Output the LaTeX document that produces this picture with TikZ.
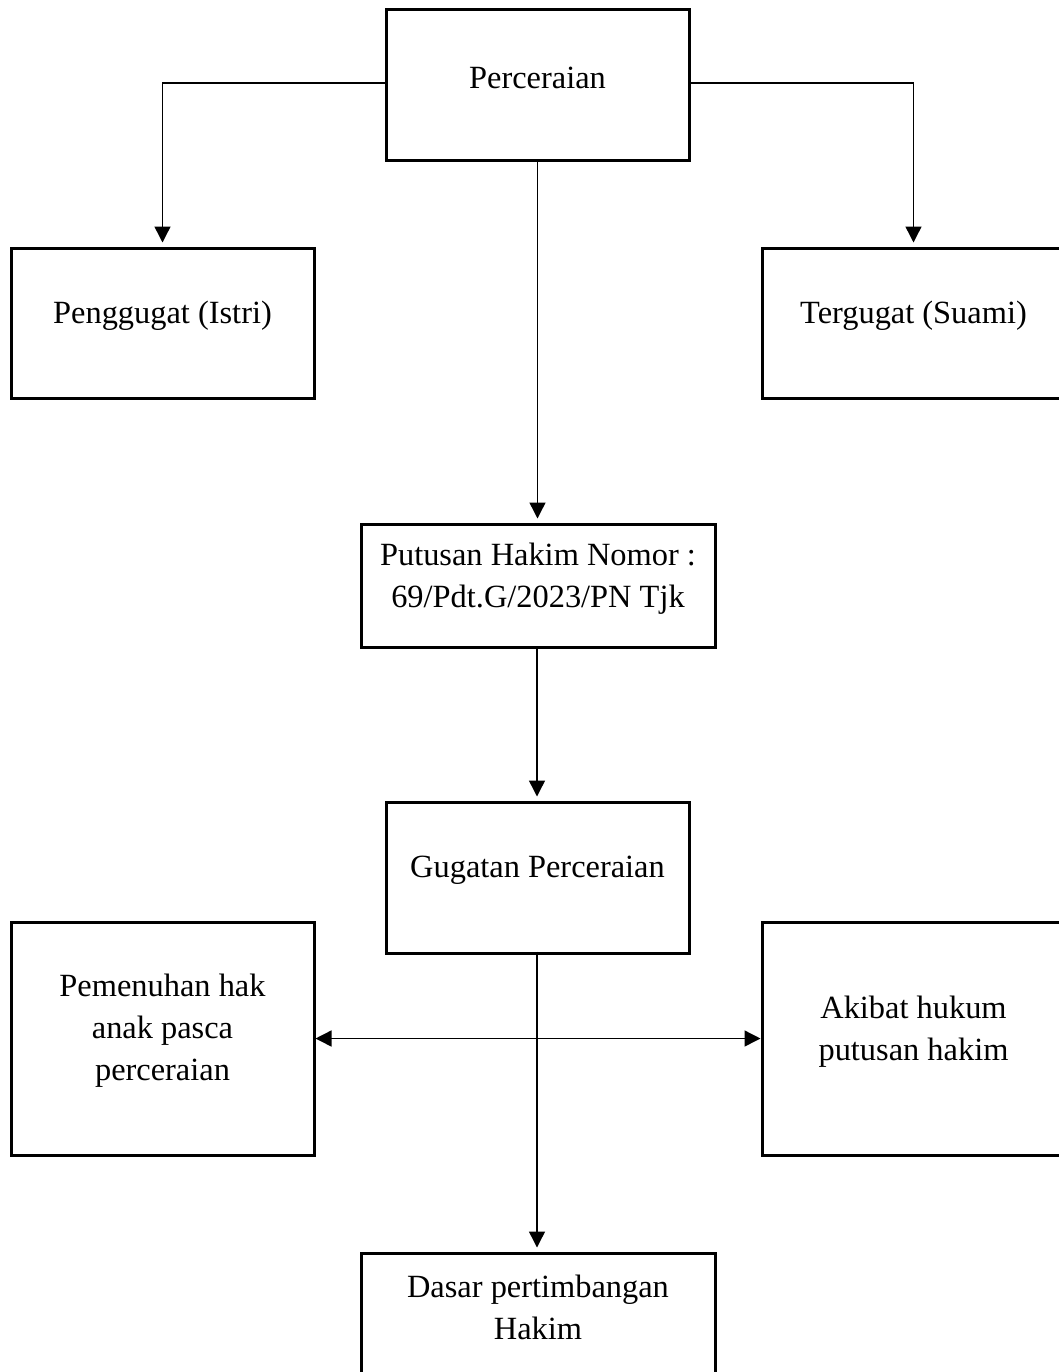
\documentclass[tikz,border=0pt]{standalone}
\usepackage{fontspec}
\setmainfont{Liberation Serif}
\usetikzlibrary{arrows.meta}
\begin{document}
\begin{tikzpicture}[x=0.5pt,y=-0.5pt,
  box/.style={draw=black,line width=1.5pt,rectangle,inner sep=0pt},
  lbl/.style={align=center,font=\fontsize{16.2}{21}\selectfont,inner sep=0pt},
  conn/.style={line width=0.7pt,-{Triangle[width=8pt,length=8pt]},shorten >=2pt},
  conn2/.style={line width=0.7pt,{Triangle[width=8pt,length=8pt]}-{Triangle[width=8pt,length=8pt]}}]
\useasboundingbox (0,0) rectangle (1059,1372);
\clip (0,0) rectangle (1059,1372);
\node[box,minimum width=151.5pt,minimum height=75.5pt] (perc) at (537.5,84.5) {};
\node[box,minimum width=151.5pt,minimum height=75pt] (peng) at (162.5,323) {};
\node[box,minimum width=151.5pt,minimum height=75pt] (terg) at (913.5,323) {};
\node[box,minimum width=177pt,minimum height=61.5pt] (put) at (538,585.5) {};
\node[box,minimum width=151.5pt,minimum height=75.5pt] (gug) at (537.5,877.5) {};
\node[box,minimum width=151.5pt,minimum height=116.5pt] (pem) at (162.5,1038.5) {};
\node[box,minimum width=151.5pt,minimum height=116.5pt] (aki) at (913.5,1038.5) {};
\node[box,minimum width=177pt,minimum height=61.5pt] (das) at (538,1314.5) {};

\node[lbl] (percT) at ([yshift=3.5pt]perc.center) {Perceraian};
\node[lbl] (pengT) at ([yshift=3.8pt]peng.center) {Penggugat (Istri)};
\node[lbl] (tergT) at ([yshift=3.8pt]terg.center) {Tergugat (Suami)};
\node[lbl] (putT) at ([yshift=3.5pt]put.center) {Putusan Hakim Nomor :\\69/Pdt.G/2023/PN Tjk};
\node[lbl] (gugT) at ([yshift=3.8pt]gug.center) {Gugatan Perceraian};
\node[lbl] (pemT) at ([yshift=4pt]pem.center) {Pemenuhan hak\\anak pasca\\perceraian};
\node[lbl] (akiT) at ([yshift=3.5pt]aki.center) {Akibat hukum\\putusan hakim};
\node[lbl] (dasT) at ([yshift=3.5pt]das.center) {Dasar pertimbangan\\Hakim};

\draw[conn] ([yshift=0.75pt]perc.west) -| (peng.north);
\draw[conn] ([yshift=0.75pt]perc.east) -| (terg.north);
\draw[conn] (perc.south) -- (perc.south |- put.north);
\draw[conn] (put.south -| 537,0) -- (gug.north -| 537,0);
\draw[conn] ([yshift=1.5pt]gug.south -| 537,0) -- (das.north -| 537,0);
\draw[conn2] (pem.east) -- (aki.west);
\end{tikzpicture}
\end{document}
